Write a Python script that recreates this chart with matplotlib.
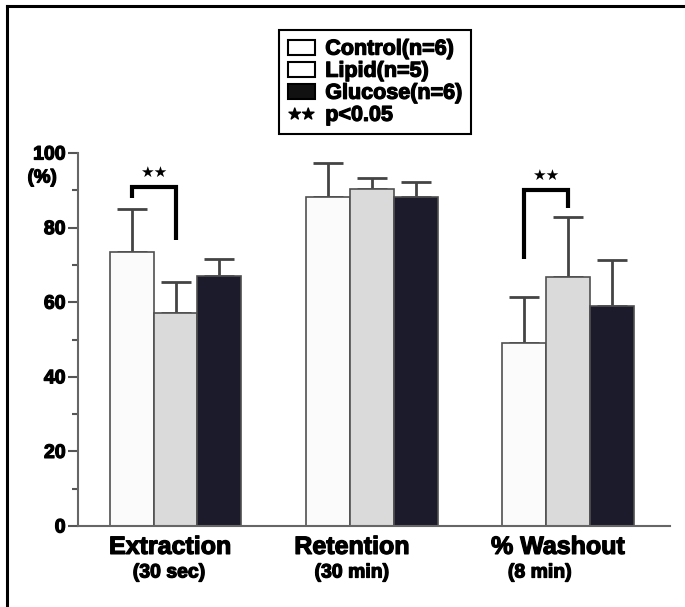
"""Extraction / retention / washout by diet group, bar chart with SD bars.
"""
import numpy as np
import matplotlib
matplotlib.use('Agg')
import matplotlib.pyplot as plt
import matplotlib.patheffects as pe
from matplotlib.patches import Patch
from matplotlib.lines import Line2D

plt.rcParams['font.family'] = ['Liberation Sans', 'DejaVu Sans']
plt.rcParams['font.weight'] = 'bold'

categories = ['Extraction', 'Retention', '% Washout']
subtitles = ['(30 sec)', '(30 min)', '(8 min)']
groups = ['Control(n=6)', 'Lipid(n=5)', 'Glucose(n=6)']

control_mean = [73.5, 88.2, 49.1]
control_err = [11.5, 9.1, 12.3]
lipid_mean = [57.1, 90.3, 66.8]
lipid_err = [8.3, 3.0, 16.0]
glucose_mean = [67.0, 88.2, 59.0]
glucose_err = [4.6, 4.0, 12.3]

# significant pairs: (category index, bar a, bar b, leg bottom a, bracket top, leg bottom b)
sig_pairs = [(0, 0, 1, 88.0, 90.9, 76.8),
             (2, 0, 1, 71.5, 90.1, 85.3)]

means = [control_mean, lipid_mean, glucose_mean]
errs = [control_err, lipid_err, glucose_err]
face = ['#fbfbfb', '#dadada', '#1b1b2b']
heavy = [pe.withStroke(linewidth=0.9, foreground='black')]

fig = plt.figure(figsize=(6.85, 6.07), dpi=100)
ax = fig.add_axes([78/685, 81/607, (670-78)/685, (526-153)/607])

x = np.arange(len(categories))
w = 0.224
for g in range(3):
    xs = x + (g - 1) * w
    ax.bar(xs, means[g], w, color=face[g], edgecolor='#505050', linewidth=1.2, zorder=2)
    ax.errorbar(xs, means[g], yerr=[np.zeros(3), errs[g]], fmt='none', ecolor='#444444',
                elinewidth=2, capsize=10.5, capthick=2, zorder=1)

# significance brackets
for c, a, b, ya, ytop, yb in sig_pairs:
    xa = x[c] + (a - 1) * w
    xb = x[c] + (b - 1) * w
    ax.plot([xa, xa, xb, xb], [ya, ytop, ytop, yb], color='black', lw=3,
            solid_joinstyle='miter', solid_capstyle='butt', clip_on=False, zorder=3)
    ax.text((xa + xb) / 2, ytop + 1.8, '★★', family='DejaVu Sans', fontsize=11,
            ha='center', va='bottom')

ax.set_xlim(-0.497, 2.52)
ax.set_ylim(0, 100)
ax.set_yticks([0, 20, 40, 60, 80, 100])
ax.set_yticks([10, 30, 50, 70, 90], minor=True)
ax.set_xticks([])
ax.tick_params(axis='y', which='major', length=7, width=1.5, color='#555555',
               labelsize=14, pad=2)
ax.tick_params(axis='y', which='minor', length=4.5, width=1.5, color='#555555')
for lab in ax.get_yticklabels():
    lab.set_fontweight('bold')
    lab.set_path_effects(heavy)
for s in ['top', 'right']:
    ax.spines[s].set_visible(False)
for s in ['left', 'bottom']:
    ax.spines[s].set_color('#666666')
    ax.spines[s].set_linewidth(1.5)

ax.text(-0.68, 93.3, '(%)', fontsize=13.5, fontweight='bold', ha='center', va='center',
        path_effects=heavy)

# category labels
label_x = [-0.028, 0.899, 1.949]
sub_x = [-0.033, 0.899, 1.857]
for i in range(3):
    ax.text(label_x[i], -5.6, categories[i], fontsize=18, fontweight='bold',
            ha='center', va='center', clip_on=False, path_effects=heavy)
    ax.text(sub_x[i], -12.6, subtitles[i], fontsize=14, fontweight='bold',
            ha='center', va='center', clip_on=False, path_effects=heavy)

handles = [Patch(facecolor='white', edgecolor='black', linewidth=1.5),
           Patch(facecolor='white', edgecolor='black', linewidth=1.5),
           Patch(facecolor='#111111', edgecolor='black', linewidth=1.5),
           Line2D([], [], ls='none', marker='$★★$', markersize=18, color='black')]
labels = groups + ['p<0.05']
leg = fig.legend(handles, labels, loc='upper left', bbox_to_anchor=(279/685, 1-30/607),
                 frameon=True, fancybox=False, edgecolor='black', framealpha=1,
                 prop={'weight': 'bold', 'size': 15.5}, borderpad=0.4,
                 handlelength=1.25, handleheight=0.7, handletextpad=0.5,
                 labelspacing=0.05, borderaxespad=0)
leg.get_frame().set_linewidth(1.5)
for t in leg.get_texts():
    t.set_path_effects(heavy)

# outer frame (top and left only visible)
fig.add_artist(Line2D([7/685, 7/685], [0, 1-6/607], color='black', lw=2.2))
fig.add_artist(Line2D([7/685, 1], [1-6/607, 1-6/607], color='black', lw=2.2))

fig.savefig('out.png', dpi=100)
